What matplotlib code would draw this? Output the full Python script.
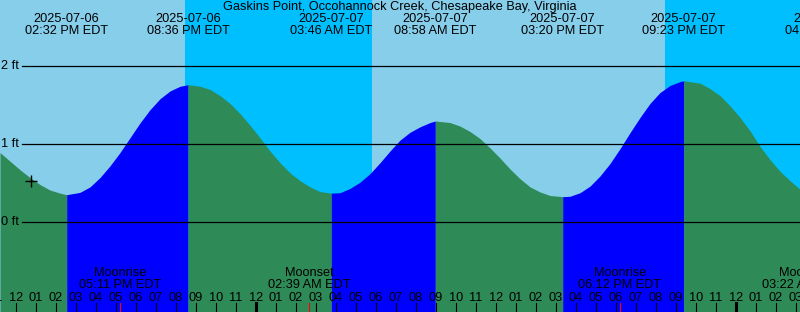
from datetime import datetime

import matplotlib
matplotlib.use("Agg")
import matplotlib.pyplot as plt
import numpy as np

plt.rcParams['font.family'] = ['Liberation Sans', 'DejaVu Sans']

title = "Gaskins Point, Occohannock Creek, Chesapeake Bay, Virginia"
ref_day = datetime(2025, 7, 7)  # hours are counted from this midnight

# high / low tides
tide_dates = ["2025-07-06", "2025-07-06", "2025-07-07", "2025-07-07",
              "2025-07-07", "2025-07-07", "2025-07-08"]
tide_clock = ["02:32 PM", "08:36 PM", "03:46 AM", "08:58 AM",
              "03:20 PM", "09:23 PM", "04:32 AM"]
tide_kinds = ["low", "high", "low", "high", "low", "high", "low"]

# tide level (hours from 2025-07-07 00:00, feet)
level_hours = [-12.8, -12.3, -11.8, -11.3, -10.8, -10.3, -9.8, -9.47, -8.8, -8.3,
               -7.8, -7.3, -6.8, -6.3, -5.8, -5.3, -4.8, -4.3, -3.8, -3.4,
               -2.8, -2.3, -1.8, -1.3, -0.8, -0.3, 0.2, 0.7, 1.2, 1.7,
               2.2, 2.7, 3.2, 3.77, 4.2, 4.7, 5.2, 5.7, 6.2, 6.7,
               7.2, 7.7, 8.2, 8.7, 8.97, 9.7, 10.2, 10.7, 11.2, 11.7,
               12.2, 12.7, 13.2, 13.7, 14.2, 14.7, 15.33, 15.7, 16.2, 16.7,
               17.2, 17.7, 18.2, 18.7, 19.2, 19.7, 20.2, 20.7, 21.2, 21.38,
               22.2, 22.7, 23.2, 23.7, 24.2, 24.7, 25.2, 25.7, 26.2, 26.7,
               27.2]
level_ft = [0.89, 0.78, 0.67, 0.57, 0.48, 0.41, 0.37, 0.35, 0.38, 0.45,
            0.57, 0.72, 0.89, 1.08, 1.27, 1.44, 1.58, 1.68, 1.74, 1.76,
            1.74, 1.70, 1.62, 1.52, 1.39, 1.24, 1.08, 0.91, 0.76, 0.63,
            0.53, 0.45, 0.39, 0.37, 0.375, 0.43, 0.51, 0.62, 0.76, 0.91,
            1.05, 1.15, 1.22, 1.275, 1.295, 1.275, 1.23, 1.16, 1.07, 0.95,
            0.82, 0.68, 0.555, 0.45, 0.385, 0.34, 0.325, 0.33, 0.375, 0.46,
            0.59, 0.75, 0.94, 1.145, 1.34, 1.52, 1.66, 1.75, 1.80, 1.81,
            1.78, 1.71, 1.62, 1.49, 1.34, 1.17, 0.97, 0.80, 0.65, 0.53,
            0.42]

# sunset / sunrise (hours from 2025-07-07 00:00)
sunsets = [-3.55, 20.45]
sunrises = [5.8]

# moon
moon_events = ["Moonrise", "Moonset", "Moonrise", "Moonset"]
moon_dates = ["2025-07-06", "2025-07-07", "2025-07-07", "2025-07-08"]
moon_clock = ["05:11 PM", "02:39 AM", "06:12 PM", "03:22 AM"]

now_date, now_clock, now_level = "2025-07-06", "12:44 PM", 0.53

ft_marks = [0, 1, 2]

DAY, NIGHT = "#87ceeb", "#00bfff"
RISING, FALLING = "#0000ff", "#2e8b57"
FS = 9.2


def to_hours(date, clock):
    d = datetime.strptime(date + " " + clock, "%Y-%m-%d %I:%M %p")
    return (d - ref_day).total_seconds() / 3600


tide_t = [to_hours(d, c) for d, c in zip(tide_dates, tide_clock)]
moon_t = [to_hours(d, c) for d, c in zip(moon_dates, moon_clock)]
t = np.array(level_hours)
lev = np.array(level_ft)

fig = plt.figure(figsize=(8, 3.12), dpi=100)
ax = fig.add_axes([0, 0, 1, 1])
x0, x1 = -12.8, 27.2
y0, y1 = -90 / 78, 222 / 78
ax.set_xlim(x0, x1)
ax.set_ylim(y0, y1)
ax.axis('off')
xt = ax.get_xaxis_transform()


def py(px):  # pixel row -> axes fraction
    return 1 - px / 312


# sky
edges = sorted([x0, x1] + sunsets + sunrises)
for a, b in zip(edges[:-1], edges[1:]):
    mid = (a + b) / 2
    night = sum(s < mid for s in sunsets) > sum(r < mid for r in sunrises)
    ax.axvspan(a, b, color=NIGHT if night else DAY, lw=0)

# water, coloured by rising / falling
prev = x0
for tt, kind in zip(tide_t, tide_kinds):
    a, b = prev, min(tt, x1)
    if b > a:
        st = np.concatenate([[a], t[(t > a) & (t < b)], [b]])
        ax.fill_between(st, y0, np.interp(st, t, lev),
                        color=RISING if kind == "high" else FALLING, lw=0)
    prev = tt

# foot lines
for f in ft_marks:
    ax.plot([22 / 800, 1], [f, f], color="black", lw=0.9,
            transform=ax.get_yaxis_transform())
    ax.text(19 / 800, f, "%d ft" % f, ha="right", va="center", fontsize=FS,
            transform=ax.get_yaxis_transform())

# now marker
ax.plot(to_hours(now_date, now_clock), now_level, marker="+", ms=9, mew=1,
        color="black")

# tide labels
fig.text(0.5, py(7), title, ha="center", va="center", fontsize=FS)
for tt, d, c in zip(tide_t, tide_dates, tide_clock):
    ax.text(tt, py(19), d, ha="center", va="center", fontsize=FS, transform=xt)
    ax.text(tt, py(31), c + " EDT", ha="center", va="center", fontsize=FS,
            transform=xt)

# moon labels
for tt, ev, c in zip(moon_t, moon_events, moon_clock):
    ax.text(tt, py(273), ev, ha="center", va="center", fontsize=FS, transform=xt)
    ax.text(tt, py(285), c + " EDT", ha="center", va="center", fontsize=FS,
            transform=xt)
    ax.plot([tt, tt], [py(312), py(303)], color="red", lw=0.8, transform=xt)

# hour ticks
for h in range(-13, 28):
    ax.text(h, py(298), "%02d" % ((h % 12) or 12), ha="center", va="center",
            fontsize=FS, transform=xt)
    ax.plot([h, h], [py(312), py(303)], color="black",
            lw=2.2 if h % 24 == 0 else 0.8, transform=xt)

fig.savefig("out.png", dpi=100)
